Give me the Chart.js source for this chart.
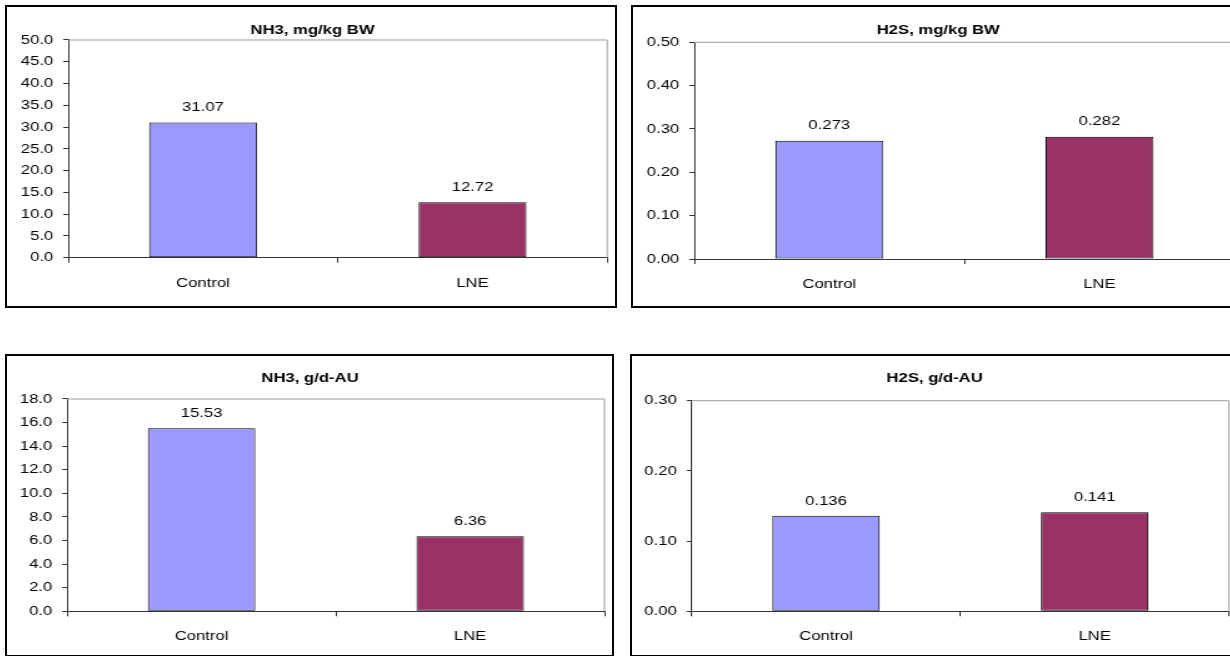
<!DOCTYPE html>
<html>
<head>
<meta charset="utf-8">
<title>NH3 and H2S emissions: Control vs LNE</title>
<script src="https://cdn.jsdelivr.net/npm/chart.js@4.4.1/dist/chart.umd.min.js"></script>
<style>
  html, body { margin: 0; padding: 0; width: 1230px; height: 656px; overflow: hidden; background: #fff; }
  .panel { position: absolute; box-sizing: border-box; border: 2px solid #000; background: #fff; }
  .panel canvas { position: absolute; left: 0; top: 0; transform-origin: 0 0; }
</style>
</head>
<body>
<div class="panel" style="left:5px;top:5px;width:612px;height:303px"><canvas id="nh3Bw"></canvas></div>
<div class="panel" style="left:631px;top:5px;width:612px;height:303px"><canvas id="h2sBw"></canvas></div>
<div class="panel" style="left:5px;top:354px;width:609px;height:303px"><canvas id="nh3Au"></canvas></div>
<div class="panel" style="left:630px;top:354px;width:608px;height:303px"><canvas id="h2sAu"></canvas></div>
<script>
// Treatments and bar fills
const categories = ['Control', 'LNE'];
const barColors = ['#9999FF', '#993366'];

// Emission values per treatment
const nh3PerBw = [31.07, 12.72];   // NH3, mg/kg BW
const h2sPerBw = [0.273, 0.282];   // H2S, mg/kg BW
const nh3PerAu = [15.53, 6.36];    // NH3, g/d-AU
const h2sPerAu = [0.136, 0.141];   // H2S, g/d-AU

// Value-axis tick labels
const nh3PerBwTicks = ['0.0', '5.0', '10.0', '15.0', '20.0', '25.0', '30.0', '35.0', '40.0', '45.0', '50.0'];
const h2sPerBwTicks = ['0.00', '0.10', '0.20', '0.30', '0.40', '0.50'];
const nh3PerAuTicks = ['0.0', '2.0', '4.0', '6.0', '8.0', '10.0', '12.0', '14.0', '16.0', '18.0'];
const h2sPerAuTicks = ['0.00', '0.10', '0.20', '0.30'];

// The panels are drawn narrow and widened horizontally
const STRETCH = 1.25;
const FONT = "'Liberation Sans', Arial, Helvetica, sans-serif";

Chart.defaults.font.family = FONT;
Chart.defaults.font.size = 13.33;
Chart.defaults.color = '#000';

// Grey plot-area frame along the top and right edges
const plotFrame = {
  id: 'plotFrame',
  beforeDatasetsDraw(chart) {
    const { ctx, chartArea: a } = chart;
    ctx.save();
    ctx.strokeStyle = '#9a9a9a';
    ctx.lineWidth = 1;
    ctx.beginPath();
    ctx.moveTo(a.left, a.top);
    ctx.lineTo(a.right, a.top);
    ctx.lineTo(a.right, a.bottom);
    ctx.stroke();
    ctx.restore();
  }
};

// Value printed above each bar
const valueLabels = {
  id: 'valueLabels',
  afterDatasetsDraw(chart) {
    const { ctx } = chart;
    const meta = chart.getDatasetMeta(0);
    const data = chart.data.datasets[0].data;
    ctx.save();
    ctx.font = '13.33px ' + FONT;
    ctx.fillStyle = '#000';
    ctx.textAlign = 'center';
    ctx.textBaseline = 'middle';
    meta.data.forEach((bar, i) => {
      ctx.fillText(String(data[i]), bar.x, bar.y - 15);
    });
    ctx.restore();
  }
};

function makeChart(id, title, values, tickLabels, yMax, yStep, box) {
  const canvas = document.getElementById(id);
  canvas.width = box.w;
  canvas.height = box.h;
  canvas.style.width = box.w + 'px';
  canvas.style.height = box.h + 'px';
  canvas.style.transform = 'scaleX(' + STRETCH + ')';

  return new Chart(canvas, {
    type: 'bar',
    data: {
      labels: categories,
      datasets: [{
        data: values,
        backgroundColor: barColors,
        borderColor: '#000',
        borderWidth: 1,
        borderSkipped: false,
        barPercentage: 0.4,
        categoryPercentage: 1
      }]
    },
    options: {
      responsive: false,
      animation: false,
      devicePixelRatio: 1,
      layout: { padding: { left: box.padL, right: box.padR, top: 0, bottom: 0 } },
      plugins: {
        legend: { display: false },
        tooltip: { enabled: false },
        title: {
          display: true,
          text: title,
          color: '#000',
          font: { size: 13.33, weight: 'bold' },
          padding: { top: box.titleTop, bottom: box.titleBottom }
        }
      },
      scales: {
        x: {
          grid: { offset: true, drawOnChartArea: false, drawTicks: true, tickLength: 5, color: '#333' },
          border: { display: true, color: '#333', width: 1 },
          ticks: { color: '#000', padding: 12.5, maxRotation: 0 },
          afterFit(scale) { scale.height = box.xAxisH; }
        },
        y: {
          min: 0,
          max: yMax,
          grid: { drawOnChartArea: false, drawTicks: true, tickLength: 4, color: '#333' },
          border: { display: true, color: '#333', width: 1 },
          ticks: {
            stepSize: yStep,
            color: '#000',
            padding: 8,
            callback: (value, index) => tickLabels[index]
          },
          afterFit(scale) { scale.width = box.axisW; }
        }
      }
    },
    plugins: [plotFrame, valueLabels]
  });
}

makeChart('nh3Bw', 'NH3, mg/kg BW', nh3PerBw, nh3PerBwTicks, 50, 5,
  { w: 486, h: 299, padL: 8.6, padR: 5.8, axisW: 40.4, titleTop: 15, titleBottom: 2, xAxisH: 48.3 });
makeChart('h2sBw', 'H2S, mg/kg BW', h2sPerBw, h2sPerBwTicks, 0.5, 0.1,
  { w: 486, h: 299, padL: 7.2, padR: 4.8, axisW: 41.8, titleTop: 15, titleBottom: 4.3, xAxisH: 47 });
makeChart('nh3Au', 'NH3, g/d-AU', nh3PerAu, nh3PerAuTicks, 18, 2,
  { w: 484, h: 299, padL: 6.8, padR: 6, axisW: 41.4, titleTop: 14, titleBottom: 13, xAxisH: 43.7 });
makeChart('h2sAu', 'H2S, g/d-AU', h2sPerAu, h2sPerAuTicks, 0.3, 0.1,
  { w: 483, h: 299, padL: 6.6, padR: 5.4, axisW: 41.2, titleTop: 14, titleBottom: 14.7, xAxisH: 43.7 });
</script>
</body>
</html>
